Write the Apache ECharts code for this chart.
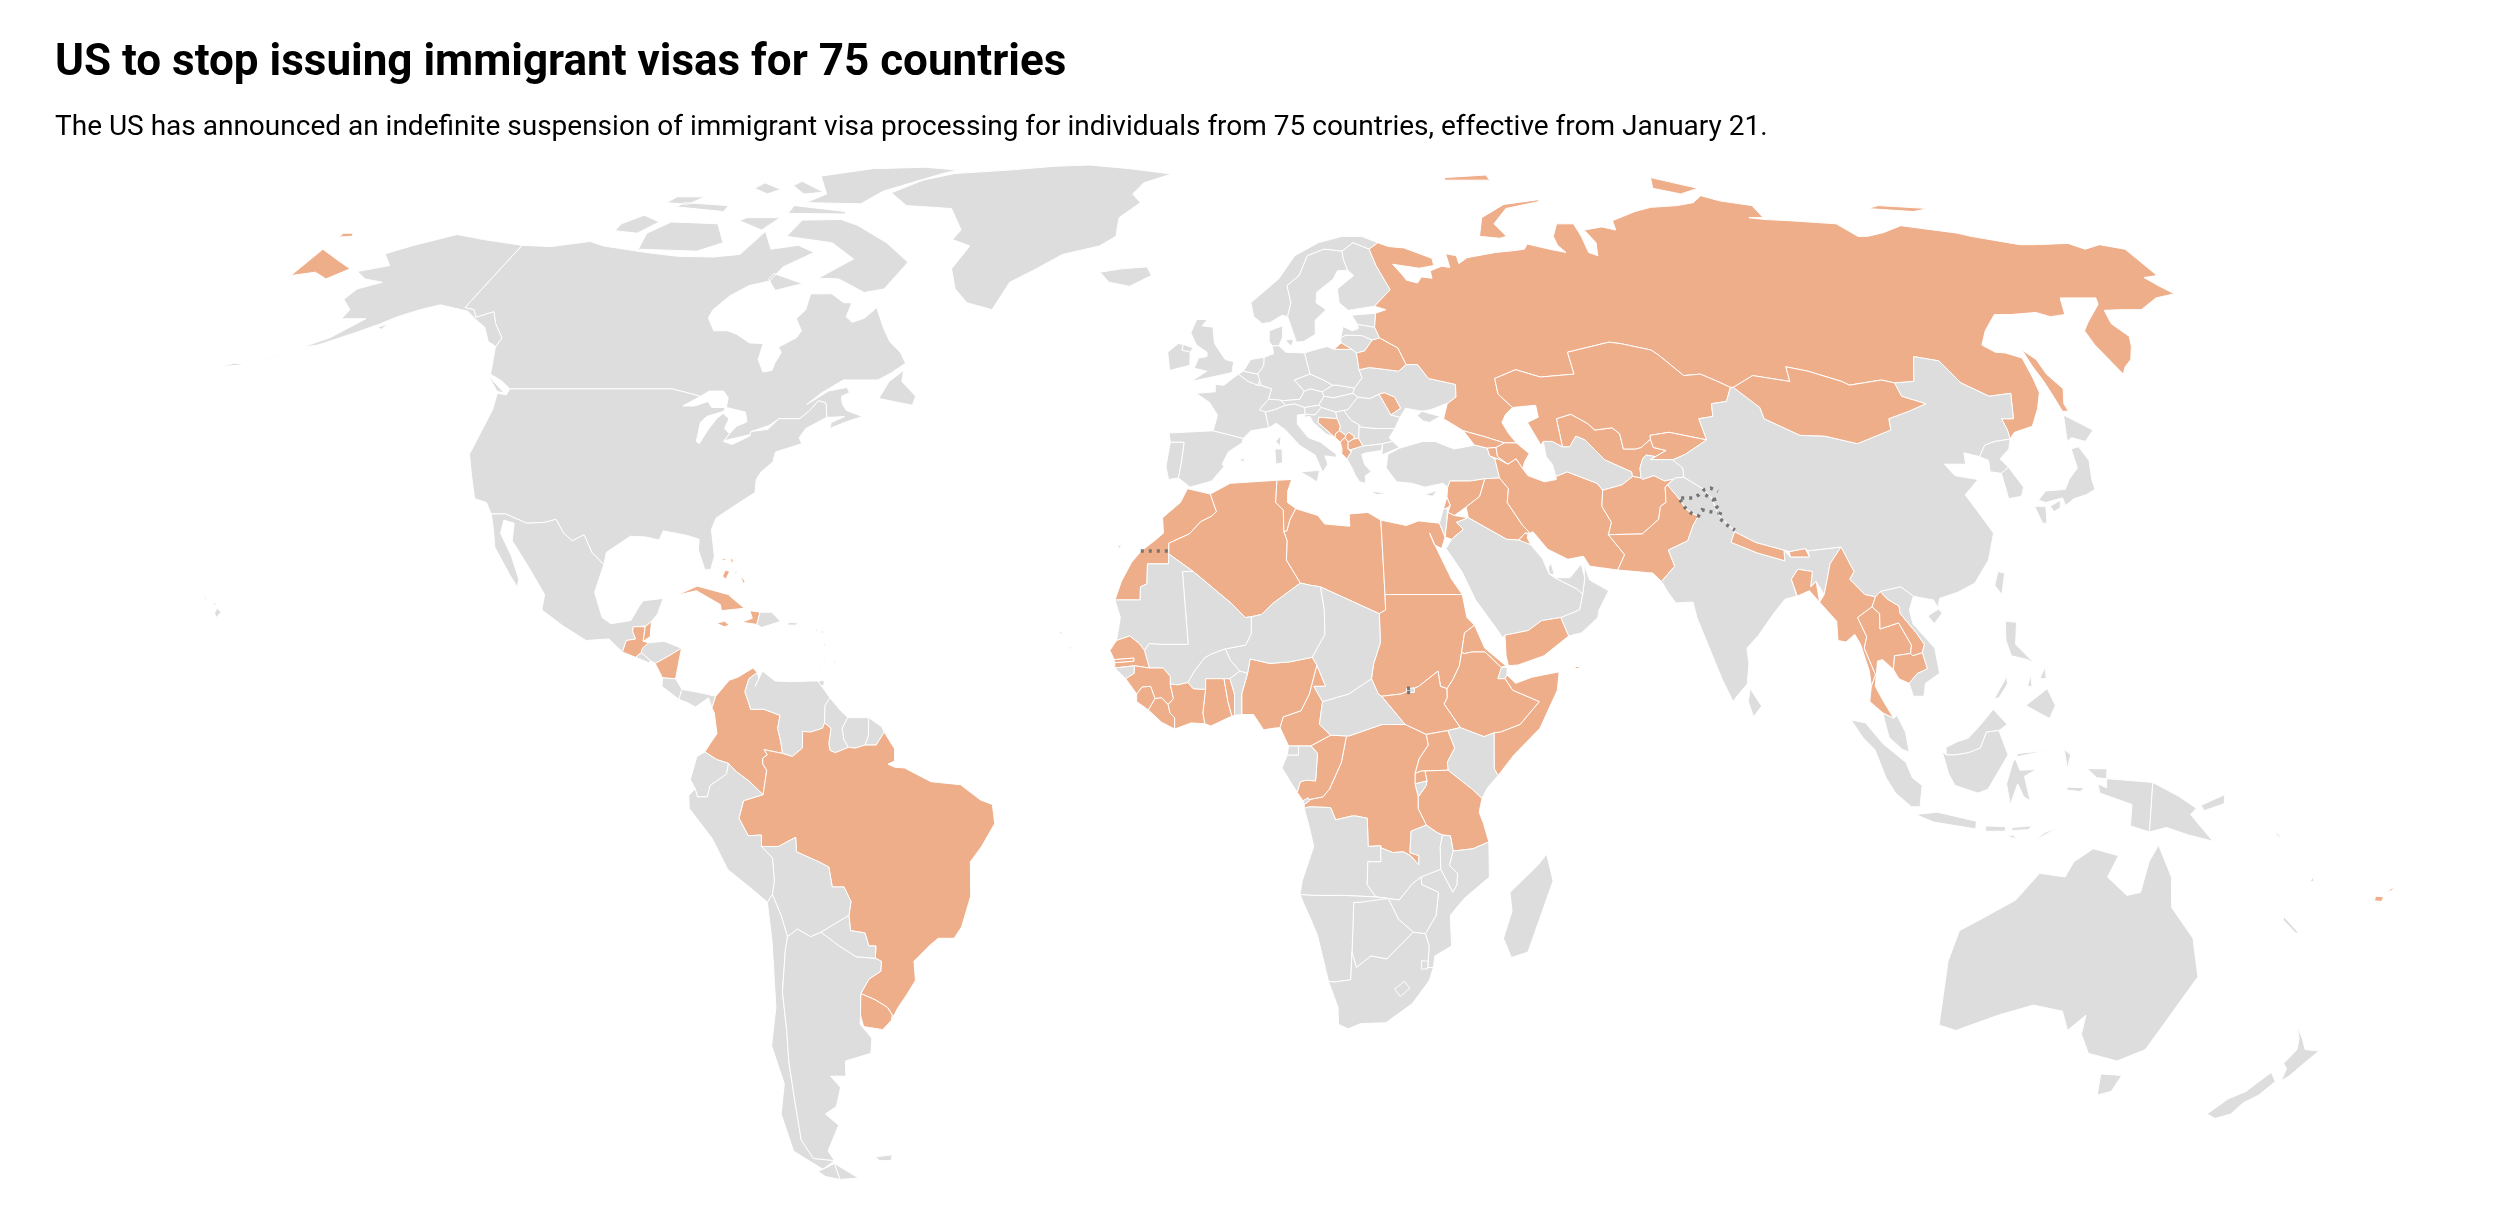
<!DOCTYPE html>
<html><head><meta charset="utf-8">
<style>html,body{margin:0;padding:0;background:#fff}#chart{width:2510px;height:1222px}</style>
<script src="https://cdn.jsdelivr.net/npm/echarts@6/dist/echarts.min.js"></script>
</head><body><div id="chart"></div>
<script>
const titleText = "US to stop issuing immigrant visas for 75 countries";
const subtitleText = "The US has announced an indefinite suspension of immigrant visa processing for individuals from 75 countries, effective from January 21.";
const suspendedCountries = ["Afghanistan","Albania","Algeria","Antigua and Barbuda","Armenia","Azerbaijan","Bahamas","Bangladesh","Barbados","Belarus","Belize","Bhutan","Bosnia and Herzegovina","Brazil","Myanmar","Cambodia","Cameroon","Cape Verde","Colombia","Ivory Coast","Cuba","DR Congo","Dominica","Egypt","Eritrea","Ethiopia","Fiji","Gambia","Georgia","Ghana","Grenada","Guatemala","Guinea","Haiti","Iran","Iraq","Jamaica","Jordan","Kazakhstan","Kosovo","Kuwait","Kyrgyzstan","Laos","Lebanon","Liberia","Libya","North Macedonia","Moldova","Mongolia","Montenegro","Morocco","Nepal","Nicaragua","Nigeria","Pakistan","Republic of Congo","Russia","Rwanda","Saint Kitts and Nevis","Saint Lucia","Saint Vincent","Senegal","Sierra Leone","Somalia","South Sudan","Sudan","Syria","Tanzania","Thailand","Togo","Tunisia","Uganda","Uruguay","Uzbekistan","Yemen"];

const northAmerica = {
"Canada":["-141,69.6;-135,69.4;-128,70.2;-124.5,69.5;-115,68.5;-108,67.9;-101,67.8;-96,68.2;-94,71.8;-90.5,69;-85.5,69.6;-81.5,68.5;-86,66.3;-87,64.2;-90.5,63.5;-93,62;-94.7,60;-94.7,58.8;-92.5,57;-90,57;-88,56.5;-85,55.3;-82.5,55.2;-82.2,53;-80.5,51.3;-79,51.5;-79,52.5;-78.6,54;-79.5,54.7;-77,56;-76.6,57;-78.5,58.7;-77.5,60;-78,62.3;-74,62.3;-71,61;-69.5,61;-69.5,59;-68,58.2;-66,58.8;-64.5,60.3;-62,57.5;-60,55.5;-57.5,54;-56,52.5;-58,51.2;-60,50.2;-66,50.2;-69,48.5;-71,46.9;-68,48.7;-65,49.2;-64.3,48.5;-65.5,48;-65,47;-64,46.1;-61,45.3;-63.5,44.6;-66,43.7;-66,44.5;-64,45.3;-66,45.2;-67,45.2;-67.8,47.1;-69.2,47.4;-70.3,46;-71.5,45;-75,45;-76.3,44.1;-79,43.3;-79,42.9;-83,42.1;-82.5,43;-81.7,44;-80.2,44.6;-81,45.9;-84.5,46.5;-84.8,47.8;-86,48.7;-88.5,48.7;-89.6,48;-95,49;-123,49;-125,50;-127.8,51;-130,54.7;-130,56;-133,58;-135,59.7;-137.5,58.9;-139,60;-141,60.3",
"-64.5,63;-68,62.5;-74,64.5;-78,64.6;-73,67.5;-79,70;-89,71;-88,73.6;-80,73.7;-76,72.8;-68,70;-62,67","-117,69;-105,68.7;-101,70;-105,73;-115,73.3;-118,71.5","-125,71.9;-120,71.5;-117.5,73.3;-122,74.4;-125,73","-90,76.5;-78,76.3;-75,78.5;-65,81.7;-62,82.5;-70,83.1;-82,82.8;-92,81.3;-87,78","-92,76;-80,75;-80,74.6;-92,74.7","-117,75.8;-106,75;-106,76;-116,76.5","-95,80.3;-88,78.3;-92,78;-96,79.5","-101,73.5;-95,72;-93,74;-100,74","-87,65.3;-80.5,63.8;-85,62.8;-87.5,64.5","-59,47.7;-53,46.8;-52.8,48;-55.8,50;-56,51.5;-58,50","-128,50.8;-123.5,48.4;-125,48.7","-120,76.5;-115,76.2;-113,77.5;-119,77.5","-104,79;-100,78;-98,78.8;-103,80"],
"United States":["-123,49;-95,49;-89.6,48;-92,46.7;-90,46.7;-88,47.3;-87,46.5;-84.7,46.5;-84.7,46;-87.3,45.3;-88,44.5;-87.6,42;-87,41.7;-86.3,43.5;-85.5,45;-84.7,45.7;-83.4,45;-83.6,43.7;-82.5,43;-83.1,42;-81.5,41.6;-79,42.7;-79,43.3;-76.3,43.6;-75,45;-71.5,45;-70.3,46;-69.2,47.4;-67.8,47.1;-67,45.2;-70,43.7;-70.7,42.5;-70,41.7;-74,40.6;-74,39.3;-75.5,38;-76,37;-75.7,35.3;-78,33.9;-81,32;-81.4,30.5;-80.1,27;-80.3,25.3;-81.2,25.2;-82.8,27.8;-83,29.2;-85,29.7;-89,30.3;-89.3,29.1;-91.5,29.5;-94,29.6;-97.2,27.5;-97.2,25.9;-99.5,27.5;-101.4,29.8;-103,29;-104.7,30;-106.5,31.8;-108.2,31.4;-111,31.3;-114.8,32.5;-117.1,32.5;-118.5,34;-120.6,34.5;-122.5,37.5;-124.3,40.3;-124,46.2;-124.7,48.4;-123,48.2",
"-141,69.6;-141,60.3;-139,60;-137.5,58.9;-135,59.7;-133,58;-130,56;-130,54.8;-132,55.5;-134.5,57.5;-136.5,58.3;-140,59.8;-146,60.7;-149,60;-152,59;-154,58;-157,56.8;-162,55;-164.5,54.7;-161,56;-157.5,58.7;-162,58.7;-162,60;-165,61.5;-164.5,63;-161,64;-165,64.5;-168,65.6;-163,66.5;-166.5,68.3;-163,69.5;-156.5,71.3;-150,70.5","-154,57.5;-152.5,58;-153,57.2","-155.8,20.2;-155,19.7;-155.6,19;-156,19.6","-156.6,21;-156,20.7;-156.4,20.6","-158.2,21.5;-157.7,21.3;-158,21.7","-170,52.8;-168,53.5;-167,53.8;-168.5,53.2","-176,52;-172,52.3;-174,52.5"],
"Greenland":["-73,78.2;-68,80.5;-62,81.8;-50,82.5;-40,83.3;-32,83.6;-22,82.8;-12,81.7;-18,80;-20,78;-18,76.5;-22,74;-22,71;-25,69.5;-32,68.2;-37,65.8;-41,64;-43,60;-48,61;-51,63;-53,66;-51,69.5;-55,70.5;-54,72;-58,75.5;-68,76"],
"Mexico":["-117.1,32.5;-114.8,32.5;-111,31.3;-108.2,31.4;-106.5,31.8;-104.7,30;-103,29;-101.4,29.8;-99.5,27.5;-97.2,25.9;-97.8,22.3;-96,19;-94.5,18.2;-91.5,18.6;-90.5,20.5;-90,21.2;-87,21.5;-87.5,19.5;-88.3,18.5;-89.1,17.9;-91,17.8;-91,17.2;-90.4,16.2;-91.8,16;-92.2,14.5;-94.5,16.2;-98,16;-102,18;-105.5,20;-105.5,22;-109,25.7;-112.5,29;-113,31.3;-114.8,31.7;-114.7,30;-112,27;-110,24;-110,23;-111.5,24.5;-115,28.2;-116,30.5"],
"Guatemala":["-92.2,14.5;-91.8,16;-90.4,16.2;-91,17.2;-91,17.8;-89.15,17.8;-89.2,15.9;-88.3,15.7;-89.3,14.4;-90.1,13.8"],
"Belize":["-89.15,17.8;-89.1,17.9;-88.3,18.5;-88.2,16.5;-89.2,15.9"],
"Honduras":["-89.2,15;-88.3,15.7;-86,15.9;-83.2,15;-85,14;-87,13;-87.8,13.4;-89.3,14.4"],
"El Salvador":["-90.1,13.8;-89.3,14.4;-87.8,13.4;-88,13.1"],
"Nicaragua":["-87,13;-85,14;-83.2,15;-83.7,11;-85.7,11.1"],
"Costa Rica":["-85.7,11.1;-83.7,11;-82.6,9.6;-83,8.3;-85.7,10"],
"Panama":["-83,8.3;-82.6,9.6;-80,9.2;-77.4,8.7;-77.9,7.2;-78.5,8.5;-80.4,7.3;-81.5,7.8"],
"Cuba":["-85,21.9;-82,23.1;-77,22;-74.2,20.2;-77.7,19.9;-78,20.7;-82,22.5"],
"Haiti":["-74.4,18.4;-72,18.1;-71.7,19.7;-73.3,19.9;-72.8,18.9"],
"Dominican Republic":["-71.7,19.7;-72,18.1;-71.2,17.7;-68.4,18.5;-69.9,19.7"],
"Jamaica":["-78.3,18.3;-77,17.8;-76.2,18;-77,18.5"],
"Puerto Rico":["-67.2,18.4;-65.7,18.3;-66,18;-67.2,18"],
"Trinidad":["-61.9,10.1;-61,10.1;-61,10.8;-61.8,10.7"],
"Bahamas":["-78,25.2;-77.3,25;-77.7,24;-78.3,24.4","-79,26.7;-77.9,26.6;-78.5,26.4","-77.5,26.8;-77,26.5;-77.2,25.9","-75,23.5;-74.6,23.6;-75.5,24.6","-76.3,25;-76,24.7;-76.5,24.8"],
"Antigua and Barbuda":["-62,17;-61.6,17;-61.8,17.3"],
"Saint Kitts and Nevis":["-62.9,17.3;-62.5,17.2;-62.7,17.5"],
"Dominica":["-61.5,15.3;-61.2,15.3;-61.3,15.7"],
"Saint Lucia":["-61.1,13.8;-60.8,13.8;-61,14.1"],
"Saint Vincent":["-61.3,13.1;-61.1,13.1;-61.2,13.4"],
"Barbados":["-59.7,13.1;-59.4,13.1;-59.6,13.4"],
"Grenada":["-61.8,12;-61.6,12;-61.7,12.3"]
};

const southAmerica = {
"Colombia":["-77.4,8.7;-75.5,10.8;-74.2,11.2;-72,12.4;-71.3,11.8;-72.5,11;-73,9.3;-72.4,8;-72,7;-70,7;-67.5,6.2;-67.8,4.5;-67.3,2.8;-67,1.2;-69.8,1.7;-69.3,1;-70,0.6;-70,-0.2;-69.4,-1;-70,-4.2;-70.5,-3.8;-72,-2.5;-74,-1.2;-75.2,-0.1;-77,0.4;-78.8,1.4;-78,2.5;-77,3.8;-77.5,6.5;-77.9,7.2"],
"Venezuela":["-71.3,11.8;-71,11;-71.5,10;-70.5,12;-68.5,10.7;-66,10.6;-63,10.7;-62,10.7;-60.8,9.4;-60,8.5;-60.7,7.5;-60.7,5.2;-61,4.5;-62.8,4;-64,4.1;-64,1.9;-65.5,0.8;-67,1.2;-67.3,2.8;-67.8,4.5;-67.5,6.2;-70,7;-72,7;-72.4,8;-73,9.3;-72.5,11"],
"Guyana":["-60,8.5;-58.5,7;-57.2,5.9;-58,4.5;-57.7,3;-57,2;-59,1.3;-59.8,1.6;-60,2.5;-59.7,4.5;-60.7,5.2;-60.7,7.5"],
"Suriname":["-57.2,5.9;-54,5.9;-54,3.5;-54.5,2.3;-56,1.9;-57,2;-57.7,3;-58,4.5"],
"French Guiana":["-54,5.9;-52,4.7;-51.6,4;-52.8,2.3;-54.5,2.3;-54,3.5"],
"Brazil":["-51.6,4;-50,1.8;-50,0.2;-51,-0.2;-50,-0.6;-48.5,-0.7;-44.5,-2.5;-40,-2.9;-37,-4.9;-35.2,-5.5;-34.9,-8;-37,-11;-38.8,-13;-39,-17.5;-40.7,-21.5;-42,-23;-44.5,-23;-46,-24;-48.6,-26;-48.7,-28.5;-50.5,-30.5;-52,-32;-53.4,-33.7;-53.1,-33;-53.7,-32;-55.5,-31;-57.6,-30.2;-56,-28.3;-54,-27.3;-53.7,-26;-54.6,-25.6;-54.3,-24;-55.4,-24;-55.8,-22.3;-58,-22;-58,-20;-57.5,-18.2;-58.4,-16.3;-60.2,-16.3;-60.5,-13.7;-62,-13;-65.3,-11.7;-65.3,-9.8;-68,-11;-70.6,-11;-70.5,-9.5;-72.5,-9.6;-73.8,-7.3;-73,-5;-70,-4.2;-69.4,-1;-70,-0.2;-70,0.6;-69.3,1;-69.8,1.7;-67,1.2;-65.5,0.8;-64,1.9;-64,4.1;-62.8,4;-61,4.5;-60.7,5.2;-59.7,4.5;-60,2.5;-59.8,1.6;-59,1.3;-57,2;-56,1.9;-54.5,2.3;-52.8,2.3"],
"Ecuador":["-75.2,-0.1;-75.5,-1.5;-78,-3;-78.5,-4.5;-80,-4.5;-80.3,-3.4;-81,-2.2;-80,0.8;-78.8,1.4;-77,0.4"],
"Peru":["-70,-4.2;-73,-5;-73.8,-7.3;-72.5,-9.6;-70.5,-9.5;-70.6,-11;-69,-12.5;-69,-15.5;-69.5,-17.3;-70.4,-18.3;-72,-17;-76,-14;-78,-10;-81.3,-6;-81.3,-4.3;-80.3,-3.4;-80,-4.5;-78.5,-4.5;-78,-3;-75.5,-1.5;-75.2,-0.1;-74,-1.2;-72,-2.5;-70.5,-3.8"],
"Bolivia":["-70.6,-11;-68,-11;-65.3,-9.8;-65.3,-11.7;-62,-13;-60.5,-13.7;-60.2,-16.3;-58.4,-16.3;-57.5,-18.2;-58,-20;-62.6,-22.2;-64.3,-22.8;-66.2,-21.8;-67.9,-22.8;-68.5,-20;-69.5,-17.3;-69,-15.5;-69,-12.5"],
"Chile":["-70.4,-18.3;-69.5,-17.3;-68.5,-20;-67.9,-22.8;-68.5,-24.5;-70,-30;-70.5,-35;-71.3,-39;-72,-44;-73,-49.5;-72,-52;-68.4,-52.3;-71,-53.5;-75,-51;-75,-46;-73,-42;-73.5,-37;-71.5,-32;-70.4,-23.5","-68.6,-52.7;-68.6,-54.9;-71,-54.5;-72,-53.8"],
"Argentina":["-67.9,-22.8;-66.2,-21.8;-64.3,-22.8;-62.6,-22.2;-60,-24;-57.6,-25.4;-54.6,-25.6;-53.7,-26;-54,-27.3;-56,-28.3;-57.6,-30.2;-58.2,-33;-58.5,-34.2;-57,-36;-57.6,-38;-62,-39;-62.5,-41;-65,-41;-63.8,-42.5;-65.3,-45;-67.5,-46;-65.8,-47.5;-69,-51;-68.4,-52.3;-72,-52;-73,-49.5;-72,-44;-71.3,-39;-70.5,-35;-70,-30;-68.5,-24.5","-68.6,-52.7;-65.2,-54.7;-68.6,-54.9"],
"Paraguay":["-58,-20;-58,-22;-55.8,-22.3;-55.4,-24;-54.3,-24;-54.6,-25.6;-57.6,-25.4;-60,-24;-62.6,-22.2"],
"Uruguay":["-57.6,-30.2;-55.5,-31;-53.7,-32;-53.1,-33;-53.4,-33.7;-55,-34.9;-58,-34.5;-58.2,-33"],
"Falkland Islands":["-61,-51.8;-58,-51.5;-58.5,-52.3;-60.5,-52.3"]
};

const europe = {
"Iceland":["-24,65.5;-22,64;-18,63.4;-14,65;-15,66.3;-20,66"],
"Portugal":["-8.9,41.9;-6.6,41.9;-6.9,39.7;-7.4,37.2;-9,37;-9.5,38.7"],
"Spain":["-9.2,43.1;-1.8,43.4;3.2,42.4;3,41.8;0.7,40.6;-0.3,39;0,38.7;-2,36.8;-5.5,36;-7.4,37.2;-6.9,39.7;-6.6,41.9;-8.9,41.9","2.4,39.6;3.4,39.8;3.2,39.3","-16.9,28.3;-16.2,28.5;-16.4,28","-15.8,28;-15.4,28;-15.6,27.8"],
"France":["-1.8,43.4;3.2,42.4;4.5,43.4;7.5,43.8;7,45.9;6,46.2;7.6,47.6;8.2,49;6.2,49.5;5.8,49.5;4.2,50;2.5,51;0,49.5;-1.5,49.6;-1.5,48.6;-4.8,48.4;-2.5,47.2;-1.1,45.5","8.6,42;9.5,42.8;9.3,41.4"],
"Italy":["7.5,43.8;8.8,44.4;10.3,43.5;12.5,41.5;15,40.2;16.1,37.9;17,39;16.6,40.1;18.4,39.9;18.5,40.3;16,41.9;14,42.5;12.3,44.3;12.4,45.5;13.7,45.6;13.7,46.5;12,47;10.5,46.8;8.5,46.2;7,45.9","12.5,38;15.6,38.2;15.1,36.7","8.4,41;9.6,41;9.6,39.2;8.5,39"],
"United Kingdom":["-5.7,50;1.4,51.2;1.7,52.7;0.2,53;-1.7,55.2;-2,57.5;-4,57.7;-3,58.6;-5,58.6;-6,56.7;-4.9,55;-3,54;-3,53.4;-4.5,53.2;-5.2,51.8;-3,51.4","-7.3,55.1;-5.5,54.6;-6,54;-7.5,54.3"],
"Ireland":["-10,54;-8.2,55.2;-7.3,55.1;-7.5,54.3;-6,54;-6,52.2;-9.5,51.5"],
"Belgium":["2.5,51;4.2,50;5.8,49.5;6.2,50.1;6.2,50.5;5.9,51;3.4,51.4"],
"Luxembourg":["5.8,49.5;6.4,49.5;6.2,50.1"],
"Netherlands":["3.4,51.4;5.9,51;7,52.2;7.1,53.3;4.7,53"],
"Germany":["7,52.2;5.9,51;6.2,50.1;6.4,49.5;8.2,49;7.6,47.6;10,47.4;13,47.6;13.8,48.7;12.2,50.2;15,51;14.3,53.9;11,54;9.8,54.9;8.6,54.9;8.8,53.8;7.1,53.3"],
"Denmark":["8.1,55.5;8.6,54.9;9.8,54.9;10.5,56;10.7,57.7;8.2,57","11,55.7;12.5,55.8;12,54.8"],
"Switzerland":["6,46.2;7,45.9;8.5,46.2;10.5,46.8;9.6,47.5;7.6,47.6"],
"Austria":["9.6,47.5;10.5,46.8;12,47;13.7,46.5;16.1,46.8;17.1,48;16.9,48.6;14.9,49;13.8,48.7;13,47.6;10,47.4"],
"Czechia":["12.2,50.2;13.8,48.7;14.9,49;16.9,48.6;18.8,49.5;17,50.3;15,51"],
"Slovakia":["16.9,48.6;17.1,48;18.8,47.8;22.1,48.4;22.5,49.1;19.5,49.5;18.8,49.5"],
"Poland":["14.3,53.9;15,51;17,50.3;18.8,49.5;19.5,49.5;22.5,49.1;24,50.5;23.6,51.6;23.6,52;23.5,53.9;22.8,54.4;19.6,54.4;18.4,54.8;16,54.3"],
"Hungary":["16.1,46.8;17.1,48;18.8,47.8;22.1,48.4;22.9,47.9;21,46.2;20.3,46.1;18.9,45.9;16.5,46.5"],
"Slovenia":["13.7,45.6;13.7,46.5;16.1,46.8;16.5,46.5;15.4,45.5"],
"Croatia":["13.6,45.2;13.7,45.6;15.4,45.5;16.5,46.5;18.9,45.9;19.1,45;16,45.2;15.8,44.5;18.5,42.5;17,43;15,44.5;14.5,45.3"],
"Bosnia and Herzegovina":["16,45.2;19.1,45;19.5,44;19.3,43.4;18.6,43;18.5,42.5;15.8,44.5"],
"Serbia":["18.9,45.9;20.3,46.1;21.4,44.8;22.7,44.2;22.4,42.4;21.5,42.3;21.7,42.7;20.8,43.2;20.3,42.8;19.3,43.4;19.5,44;19.1,45"],
"Kosovo":["20.3,42.8;20.8,43.2;21.7,42.7;21.5,42.3;20.6,41.9;20.1,42.5"],
"Montenegro":["18.5,42.5;18.6,43;19.3,43.4;20.3,42.8;20.1,42.5;19.3,41.9"],
"Albania":["19.3,41.9;20.1,42.5;20.6,41.9;20.5,41;21,40.6;20.2,39.7;19.4,40.4;19.5,41"],
"North Macedonia":["20.6,41.9;21.5,42.3;22.4,42.4;23,41.4;21,40.9;20.5,41"],
"Greece":["20.2,39.7;21,40.6;21,40.9;23,41.4;26.3,41.7;26,40.8;23.5,40.5;22.7,40.3;23,39;24,38;23,37.5;23,36.5;22,36.7;21.3,37.7;21,38.4","23.6,35.5;26.3,35.2;24.7,35"],
"Bulgaria":["22.7,44.2;22.9,43.9;25.5,43.7;28.6,43.7;27.5,42.5;28,42;26.3,41.7;23,41.4;22.4,42.4"],
"Romania":["20.3,46.1;21,46.2;22.9,47.9;24.9,47.7;26.6,48.3;28.2,45.5;29.7,45.2;28.6,43.7;25.5,43.7;22.9,43.9;22.7,44.2;21.4,44.8"],
"Moldova":["26.6,48.3;27.5,48.5;29.2,47.9;30,46.4;28.2,45.5"],
"Ukraine":["22.1,48.4;22.5,49.1;24,50.5;23.6,51.6;25.5,51.9;30.5,51.4;32,52.3;34,52.3;35.5,50.4;40,49.6;39.7,47.9;38.2,47.1;35,46.2;33.5,46;36.5,45.3;34.5,44.5;33.5,44.7;32.6,45.4;33.5,46;30.8,46.4;29.7,45.2;28.2,45.5;30,46.4;29.2,47.9;27.5,48.5;26.6,48.3;24.9,47.7;22.9,47.9"],
"Belarus":["23.6,51.6;25.5,51.9;30.5,51.4;32,52.3;31,54.6;28,56;26.6,55.7;25,54.2;23.5,53.9;23.6,52"],
"Lithuania":["21,56;22,56.4;25,56.3;26.6,55.7;25,54.2;23.5,53.9;22.8,54.4;21,55.3"],
"Latvia":["21,56;21.7,57.6;23.2,57;24.4,57.3;24.4,57.9;27.4,57.5;28,56;26.6,55.7;25,56.3;22,56.4"],
"Estonia":["24.4,57.9;23.5,59.2;28,59.5;27.4,57.5"],
"Norway":["5,61;5.5,59;7,58;8.5,58.2;10.7,59.2;11.7,59;12.5,61;12,63.5;14.5,65;16.5,68;20,69;23.5,68.7;26,70;29,69;31,70;28,71;24,71;19,70;14,68;10.5,64.5"],
"Sweden":["11.7,59;13,55.4;14.3,55.5;16.5,56.5;16.7,58.5;18.9,60;17.2,61;17.5,62.5;21,64.5;22,65.7;24,65.8;23.5,67.5;23.5,68.7;20,69;16.5,68;14.5,65;12,63.5;12.5,61"],
"Finland":["24,65.8;25,65;21.5,63;21.5,61;23,59.9;28,60.5;31.5,62.9;29.7,66.5;29,69;26,70;23.5,68.7;23.5,67.5"],
"Russia":["31,70;33,69.4;36,69.2;41,67.6;41,66.5;38,66.1;33,66.7;34.5,65;35,64.3;37,63.9;38,64.8;40,64.6;40,65.7;42.5,66.4;44,66.2;44,68.3;46,68;46,66.8;48,67.7;54,68.5;58,68.8;60,69;61,69.8;65,69;68,68.5;67,69.6;67,71;69,73;72.5,73;72.7,71;72.5,68.5;74,68;75,70;74,72;78,72.5;80.5,72;81,73.5;87,75;91,75.7;97,76;101,76.5;104,77.7;107,76.8;113,76;113,74;110,74;113,73.7;118,73.5;127,73;129,71;131,71;135,71.6;140,72.7;150,71.5;152,71;160,69.7;163,69.7;170,69.9;172,69;176,69.7;180,69;180,65;177,64.7;178,63.5;179.3,62.3;175,61.7;170,60;166,60;163,59.9;162,58;163.2,56.2;162,54.8;160,53;158,52;156.7,51;155.7,55;156,57;158,58.2;163,60.8;163.7,61.7;160,61.7;157,61.7;155,59.3;152,59;150,59.6;145,59.3;142,59.3;138,57;135.5,55;137,54;138.7,53.9;141,53.2;140.5,50.5;140,48.5;138,46.3;135.5,44;132,43.2;131.5,42.9;130.7,42.3;131,43.5;131,45;133,45;135,48.4;131,48;127.5,49.8;126,52.8;122,53.4;119.5,50;116,49.8;114,50.2;108,49.5;107,50;102,51.4;98.5,52;98,50;92,50.8;87.8,49.2;87.3,49.2;85.5,50;83,51;80,50.8;77,53.6;76,54.3;71,55.2;69,55.4;61,54;61,51;55,50.6;51,51.6;47,50.4;47,48.3;49,46.5;47.6,45.6;46.7,44.5;47.5,43;48.5,41.8;46.5,41.8;43.5,42.6;40,43.4;37,45;38,47;38.2,47.1;39.7,47.9;40,49.6;35.5,50.4;34,52.3;32,52.3;31,54.6;28,56;27.4,57.5;28,59.5;30,60;28,60.5;31.5,62.9;29.7,66.5;29,69","19.6,54.4;22.8,54.4;21,55.3","-180,69;-175,67.5;-170,66;-172.5,64.5;-176,65.5;-180,65","-180,71.5;-178,71.5;-177.5,71;-180,70.9","142,54.3;143.3,53;143.3,51;144.5,49;143,47;143,46;142,46;142,48;142,50;141.8,52","52,71;56,70.7;57.5,71;56,73;60,75.5;68,76.7;68,77;60,76.2;54,74","95,79;100,78;105,79;97,81","137,75.5;146,75;150,75.5;140,76","50,80.5;60,80.5;60,81.5;50,81"]
};

const africa = {
"Morocco":["-5.9,35.8;-2.2,35.1;-1.2,32.8;-2,32.2;-3.7,31.5;-5.5,29.9;-8.7,28.7;-8.7,27.3;-8.7,26;-12,26;-12,23.4;-13,23;-13,21.3;-16.9,21.3;-16,23.7;-14.5,26.2;-13,27.7;-11,29;-9.6,30;-9.8,32;-7,34"],
"Algeria":["-2.2,35.1;1,36.5;8.6,36.9;8.3,34;9.5,33;9.5,30.2;10,29;9.8,26.5;11.9,23.5;7.5,20.8;5.8,19.4;4.2,19.1;3.3,19;1.2,20.8;-4.8,25;-8.7,27.3;-8.7,28.7;-5.5,29.9;-3.7,31.5;-2,32.2;-1.2,32.8"],
"Tunisia":["8.6,36.9;11,37;10.3,35.5;10.2,34;11.5,33.2;10.5,31.7;10,30.3;9.5,30.2;9.5,33;8.3,34"],
"Libya":["11.5,33.2;15,32.3;16,31.2;20,30.9;20,32.5;23,32.7;25,31.7;25,22;25,20;24,19.5;15,23;13.5,23.2;11.9,23.5;9.8,26.5;10,29;9.5,30.2;10,30.3;10.5,31.7"],
"Egypt":["25,31.7;29,31;31,31.6;34.3,31.3;35,29.5;34.3,28;33.2,28.5;32.6,30;33.5,28;35.5,24;37,22;25,22"],
"Sudan":["25,22;37,22;37.5,19;38.6,18;37,17;36.4,14.4;36,12.7;35,11;34,9.7;33,10;32.7,12;29.7,10;27,9;24,8.7;23.5,9;22.5,11;22.9,13;24,15.7;24,19.5;25,20"],
"South Sudan":["34,9.7;33,10;32.7,12;29.7,10;27,9;24,8.7;27.5,5;30.7,3.7;34,4.2;35.9,4.6;33.5,7.7;34,8.5"],
"Abyei":["27.8,9.7;29,9.8;29,9.2;27.9,9.2"],
"Eritrea":["36.4,14.4;37,17;38.6,18;40,15;43.1,12.7;42.4,12.5;42,12.8;40,14.5;38,14.5;36.9,14.3"],
"Djibouti":["42.4,12.5;43.3,12.5;43.2,11.5;42.9,11;41.8,11"],
"Ethiopia":["36.4,14.4;36.9,14.3;38,14.5;40,14.5;42,12.8;42.4,12.5;41.8,11;42.9,11;44,9.5;48,8;45,5;42,4;41,3.9;39.5,3.4;36,4.5;35.9,4.6;33.5,7.7;34,8.5;34,9.7;35,11;36,12.7"],
"Somalia":["43.2,11.5;44.5,10.4;47,11.2;51.2,11.9;50.8,9.5;48,4.5;44,1;41.6,-1.7;41,-0.8;41,2.8;41,3.9;42,4;45,5;48,8;44,9.5;42.9,11"],
"Kenya":["41.6,-1.7;40,-3.3;39.2,-4.7;37.7,-3.5;34,-1;33.9,0.1;35,1.9;34,4.2;35.9,4.6;36,4.5;39.5,3.4;41,3.9;41,2.8;41,-0.8"],
"Uganda":["29,-1.4;30,-1.1;34,-1;33.9,0.1;35,1.9;34,4.2;30.7,3.7;31,2.3;29.6,0.5"],
"Tanzania":["30.5,-1.1;34,-1;37.7,-3.5;39.2,-4.7;38.8,-6.5;39.5,-8;40.4,-10.4;38,-11.3;35,-11.6;34.5,-9.6;33.3,-9.5;32.5,-9.2;30.8,-8.2;29.5,-6;29.5,-4.5;30.7,-3;30.8,-2.4"],
"Rwanda":["29,-1.4;30,-1.1;30.5,-1.1;30.8,-2.4;29,-2.8"],
"Burundi":["29,-2.8;30.8,-2.4;30.7,-3;29.5,-4.5"],
"DR Congo":["12.2,-6;13,-5.8;16.2,-5.9;17,-7.5;19.5,-7;20,-7;21.8,-7.3;22,-11;23.9,-10.9;24,-11.2;25.8,-11.8;27.4,-11.7;28.5,-12.2;29.8,-13.4;29.8,-12.2;28.4,-11.8;28.5,-9;30.8,-8.2;29.5,-6;29.5,-4.5;29,-2.8;29,-1.4;29.6,0.5;31,2.3;30.7,3.7;27.5,5;24,5;19,3.5;18.6,3.5;17.8,0;16,-3.5;15,-4.5;13.2,-4.8;12.2,-5.5"],
"Republic of Congo":["11.1,-3.9;12,-5;13.2,-4.8;15,-4.5;16,-3.5;17.8,0;18.6,3.5;16.2,3.6;13.2,2.2;14.2,1.2;13.9,-2.4;12.5,-2.3;11.6,-2.5"],
"Gabon":["8.8,-0.7;9.6,1;11.3,1;11.3,2.2;13.2,2.2;14.2,1.2;13.9,-2.4;12.5,-2.3;11.6,-2.5;11.1,-3.9"],
"Equatorial Guinea":["9.6,1;11.3,1;11.3,2.2;9.8,2.2"],
"Cameroon":["8.5,4.6;9.8,2.2;13.2,2.2;16.2,3.6;14.5,5;15,8;13.7,10;15.5,10;14.2,12.8;13,9;11.7,6.8;9,6"],
"Nigeria":["2.7,6.3;4.5,6.3;6,4.3;7.5,4.5;8.5,4.6;9,6;11.7,6.8;13,9;14.2,12.8;13.5,13.8;10,13.2;7,13;4,13.6;3.6,11.7;2.7,9"],
"Central African Republic":["14.5,5;16.2,3.6;18.6,3.5;19,3.5;24,5;27.5,5;24,8.7;23.5,9;22.5,11;19,9;15,8"],
"Chad":["15,23;24,19.5;24,15.7;22.9,13;22.5,11;19,9;15,8;13.7,10;15.5,10;14.2,12.8;13.5,13.8;15.5,16.8;15.5,20"],
"Niger":["11.9,23.5;13.5,23.2;15,23;15.5,20;15.5,16.8;13.5,13.8;10,13.2;7,13;4,13.6;3.6,11.7;2.4,12;1,13.4;0.2,14.9;3.3,15.4;4.2,16.9;4.2,19.1;5.8,19.4;7.5,20.8"],
"Mali":["-4.8,25;1.2,20.8;3.3,19;4.2,19.1;4.2,16.9;3.3,15.4;0.2,14.9;-2,14.2;-3,13.7;-4.5,12;-5.5,10.5;-7,10.2;-8.2,10.3;-8.2,11.3;-9.3,12.4;-11.4,12.4;-12.2,14.7;-11.5,15.6;-9.3,15.5;-5.5,15.5;-6.5,25"],
"Mauritania":["-16.9,21.3;-13,21.3;-13,23;-12,23.4;-12,26;-8.7,26;-8.7,27.3;-4.8,25;-6.5,25;-5.5,15.5;-9.3,15.5;-11.5,15.6;-12.2,14.7;-13,15.6;-14.5,16.6;-16.5,16;-16,19"],
"Senegal":["-16.5,16;-14.5,16.6;-13,15.6;-12.2,14.7;-11.4,12.4;-13.7,12.7;-16.7,12.4;-16.7,13.1;-13.8,13.3;-13.8,13.7;-16.8,13.5;-17.5,14.7"],
"Gambia":["-16.8,13.5;-13.8,13.7;-13.8,13.3;-16.7,13.1"],
"Guinea-Bissau":["-16.7,12.4;-13.7,12.7;-13.7,11.7;-15,11;-16,11.8"],
"Guinea":["-13.7,12.7;-11.4,12.4;-9.3,12.4;-8.2,11.3;-8.2,10.3;-7.7,8.4;-8.5,7.6;-9.5,8.5;-10.5,8.4;-11.2,10;-12.5,9.9;-13.3,9;-15,11;-13.7,11.7"],
"Sierra Leone":["-13.3,9;-12.5,9.9;-11.2,10;-10.5,8.4;-11.5,6.9;-13.3,8"],
"Liberia":["-11.5,6.9;-10.5,8.4;-9.5,8.5;-8.5,7.6;-8.2,6.5;-7.5,5.9;-7.5,4.4;-9.5,5.3"],
"Ivory Coast":["-7.5,4.4;-7.5,5.9;-8.2,6.5;-8.5,7.6;-7.7,8.4;-8.2,10.3;-7,10.2;-5.5,10.5;-4.7,9.7;-2.8,9.6;-3.2,6.5;-2.9,5.1;-5,5.2"],
"Burkina Faso":["-5.5,10.5;-4.5,12;-3,13.7;-2,14.2;0.2,14.9;1,13.4;2.4,12;0.9,11;0,11;-2.8,11;-2.8,9.6;-4.7,9.7"],
"Ghana":["-3.2,6.5;-2.8,9.6;-2.8,11;0,11;0.6,8;1.2,6.1;-2,4.8;-2.9,5.1"],
"Togo":["0,11;0.9,11;1.6,9;1.6,6.2;1.2,6.1;0.6,8"],
"Benin":["0.9,11;2.4,12;3.6,11.7;2.7,9;2.7,6.3;1.6,6.2;1.6,9"],
"Angola":["12.2,-6;13,-5.8;16.2,-5.9;17,-7.5;19.5,-7;20,-7;21.8,-7.3;22,-11;23.9,-10.9;24,-13;22,-13;22,-16;23.4,-17.6;18.4,-17.4;14,-17.4;11.7,-17.3;12,-15.5;13.7,-11;13,-8.5","12,-5;12.8,-4.6;13,-5;12.2,-5.5"],
"Zambia":["22,-13;24,-13;23.9,-10.9;24,-11.2;25.8,-11.8;27.4,-11.7;28.5,-12.2;29.8,-13.4;29.8,-12.2;28.4,-11.8;28.5,-9;30.8,-8.2;32.5,-9.2;33.3,-9.5;33,-11;33.2,-14;30.2,-15;28.9,-15.9;27,-18;25.3,-17.8;23.4,-17.6;22,-16"],
"Malawi":["33.3,-9.5;34.5,-9.6;35,-11.6;34.5,-13.5;35.8,-14.5;35.8,-16;35.2,-17;33.2,-14;33,-11"],
"Mozambique":["40.4,-10.4;38,-11.3;35,-11.6;34.5,-13.5;35.8,-14.5;35.8,-16;35.2,-17;33.2,-14;30.2,-15;30.4,-16;33,-17;32.8,-20;31.3,-22.4;32,-24;32,-26.8;32.9,-26.8;33,-25.3;35.5,-24;35,-20;37,-17.8;40.7,-15"],
"Zimbabwe":["25.3,-17.8;27,-18;28.9,-15.9;30.2,-15;30.4,-16;33,-17;32.8,-20;31.3,-22.4;29.4,-22.2;27,-20.5"],
"Botswana":["20,-18.3;20,-22;20,-24.8;20.8,-26.8;23,-25.3;25.5,-25.7;29.4,-22.2;27,-20.5;25.3,-17.8;23.4,-17.6;21,-18.3"],
"Namibia":["11.7,-17.3;14,-17.4;18.4,-17.4;23.4,-17.6;25.3,-17.8;21,-18.3;20,-18.3;20,-22;20,-24.8;20,-28.4;17.4,-28.7;16.5,-28.6;14.5,-22.5"],
"South Africa":["16.5,-28.6;17.4,-28.7;20,-28.4;20,-24.8;20.8,-26.8;23,-25.3;25.5,-25.7;29.4,-22.2;31.3,-22.4;32,-24;32,-26.8;32.9,-26.8;32.4,-28.5;30,-31.5;26,-34;22,-34.1;20,-34.8;18.4,-34.2;18.2,-32"],
"Lesotho":["27,-29.6;28.5,-28.6;29.4,-29.5;28,-30.6"],
"Eswatini":["31,-25.9;32,-26;32,-27;31,-27"],
"Madagascar":["49.3,-12;50.5,-15.5;47.5,-24.8;45,-25.5;43.5,-23;44.5,-19.5;44,-17;48,-13.5"],
"Cape Verde":["-25.3,17;-24.9,16.8;-25,17.2","-23.7,15;-23.4,15;-23.6,15.3"]
};

const asia = {
"Georgia":["40,43.4;43.5,42.6;46.5,41.8;45,41.2;43.5,41.1;41.5,41.5"],
"Armenia":["43.5,41.1;45,41.2;45,40;46.5,39;45,39.7;43.7,40.1"],
"Azerbaijan":["46.5,41.8;48.5,41.8;50.3,40.4;49.3,39.3;48.8,38.4;48,39.7;46.5,39;45,40;45,41.2"],
"Turkey":["26.3,41.7;28,42;29,41.2;26,40.2","27,40.3;29,41.1;33,42;35,42;38,41;41.5,41.5;43.5,41.1;43.7,40.1;44.5,39.7;44.8,37.2;42.4,37.1;40,36.8;36.7,36.8;36.2,36;35.5,36.5;32.5,36;30.5,36.5;28,36.7;26.5,38.5"],
"Cyprus":["32.3,35;34.5,35.6;33.6,34.8"],
"Syria":["36.2,36;36.7,36.8;40,36.8;42.4,37.1;41.2,34.8;38.8,33.4;36.8,32.3;35.8,32.7;36.3,33.6;35.9,34.7"],
"Lebanon":["35.9,34.7;36.3,33.6;35.8,33.3;35.1,33.1"],
"Israel":["35.1,33.1;35.8,33.3;35.5,31.5;35,29.5;34.3,31.3"],
"Jordan":["35.8,32.7;36.8,32.3;39,32;37,31.4;38,30.5;36,29.2;35,29.5;35.5,31.5"],
"Iraq":["42.4,37.1;44.8,37.2;46,35.8;45.5,34;47.5,31;48.5,30;47.7,30;46.6,29.1;44.7,29.2;39,32;38.8,33.4;41.2,34.8"],
"Kuwait":["47.7,30;48.2,29.9;48,29.4;48.4,28.5;47.5,28.7;46.6,29.1"],
"Saudi Arabia":["36,29.2;38,30.5;37,31.4;39,32;44.7,29.2;46.6,29.1;48.4,28.5;50,26.7;50.8,24.7;51.6,24.2;55,22.7;55.7,22;55,20;52,19;49,18.6;46.8,17.3;43.2,16.7;42.8,16.4;42,17.5;39,21.3;37.2,25;35,28"],
"Yemen":["43.2,16.7;46.8,17.3;49,18.6;52,19;53,16.6;49,14;45,12.8;43.5,12.7;43.2,14","53.3,12.6;54.5,12.6;54,12.3"],
"Oman":["55,20;55.7,22;56.3,24.2;56.4,26;57,23.9;59.8,22.5;58,20;57.7,19;55,17;53,16.6;52,19"],
"United Arab Emirates":["51.6,24.2;54,24.2;56,26;56.3,24.2;55.7,22;55,22.7"],
"Qatar":["50.8,24.7;51.6,24.6;51.3,26.1;50.8,25.6"],
"Iran":["44.5,39.7;45,39.7;46.5,39;48,39.7;48.8,38.4;49.5,37.5;52,36.7;54,37;54,37.4;56,38;60.5,36.5;61.2,35.6;60.6,33.5;61.7,31.4;60.9,29.8;63,27.2;61.6,25.2;57.3,25.7;56.5,27;54,26.6;51,27.9;49,30.2;48.5,30;47.5,31;45.5,34;46,35.8;44.8,37.2"],
"Turkmenistan":["53,42;54.5,42;56,41.3;57.2,41.3;58.6,42.7;60,42.2;62.5,39.6;66.5,38;66.5,37.4;64.5,36.3;61.2,35.6;60.5,36.5;56,38;54,37.4;53.8,39;53,40"],
"Uzbekistan":["56,41.3;56,45;58.6,45.6;61,44.4;62,43.5;65,43.8;66,43;66,41;68,41;69,41.2;70.9,42.3;71,41.2;73,40.8;71,40;69.5,40.2;68.8,39.7;68,38.5;67.8,37.2;66.5,37.4;66.5,38;62.5,39.6;60,42.2;58.6,42.7;57.2,41.3"],
"Kazakhstan":["47,50.4;51,51.6;55,50.6;61,51;61,54;69,55.4;71,55.2;76,54.3;77,53.6;80,50.8;83,51;85.5,50;87.3,49.2;85.7,47.3;83,47;82.5,45.3;80,45;80.2,42.2;74.3,43.2;71,42.8;70.9,42.3;69,41.2;68,41;66,41;66,43;65,43.8;62,43.5;61,44.4;58.6,45.6;56,45;56,41.3;54.5,42;53,42;52.5,41.5;51,44.5;53,45.2;53,46.8;49,46.5;47,48.3"],
"Kyrgyzstan":["70.9,42.3;71,42.8;74.3,43.2;80.2,42.2;76,40.3;73.8,39.6;70,39.6;73,40.8;71,41.2"],
"Tajikistan":["68,38.5;68.8,39.7;69.5,40.2;71,40;70,39.6;73.8,39.6;75,38.5;74.8,37.3;71.5,36.8;70,37.5;68,37;67.8,37.2"],
"Afghanistan":["60.6,33.5;61.2,35.6;64.5,36.3;66.5,37.4;67.8,37.2;68,37;70,37.5;71.5,36.8;74.8,37.3;73.35,37.2;71.4,36;71,34;70,33.5;69.3,31.8;66.3,29.9;60.9,29.8;61.7,31.4"],
"Pakistan":["60.9,29.8;66.3,29.9;69.3,31.8;70,33.5;71,34;71.4,36;73.35,37.2;71.85,36.3;73.35,34.35;73.9,33.3;74.7,32.6;75.76,32.25;74.6,31;73.3,29;70,27.8;70.6,25.7;68.2,23.7;67,24.8;61.6,25.2;63,27.2"],
"India":["73.35,34.35;71.85,36.3;73.35,37.2;74.8,37.3;77.6,35.7;78.5,34.6;79,32.5;81,30.2;80.1,28.8;84,27.4;88,26.4;88.2,27.8;89,26.9;92,26.9;92,27.7;97.3,28.2;95,26;94,23.8;93.2,22;92.3,23.7;91.3,23;92,25;89.8,25.3;88.5,24;88.9,21.8;87,21.4;85,19.6;82.2,16.7;80.2,15;80.3,13;79.8,10.3;78,8.6;77.5,8;76,11;73,19;72.7,21;72,21;70,20.9;69,22.3;68.2,23.7;70.6,25.7;70,27.8;73.3,29;74.6,31;75.76,32.25;74.7,32.6;73.9,33.3"],
"Nepal":["80.1,28.8;81,30.2;84,28.8;88.2,27.8;88,26.4;84,27.4"],
"Bhutan":["89,26.9;89,27.6;91.6,28;92,26.9"],
"Bangladesh":["88.5,24;89.8,25.3;92,25;91.3,23;92.3,23.7;92.3,21;91,22.5;89,21.8;88.9,21.8"],
"Sri Lanka":["79.8,8;80.2,9.7;81.8,7.4;80.5,6"],
"China":["73.7,39.5;75,38.5;74.8,37.3;77.6,35.7;78.5,34.6;79,32.5;81,30.2;84,28.8;88.2,27.8;89,27.6;91.6,28;92,27.7;97.3,28.2;98.5,25;97.6,24;99.5,22;101.1,21.7;102,22.4;105.3,23;107,21.8;108,21.6;110,21.3;110.5,20.3;111,21.5;114,22.3;117,23.5;120,26.5;122,30;121,32;119.5,35;122.5,37;119,37.5;118,39;121.5,39;122,40.5;124.3,40;126,41.5;128,42;130.7,42.3;131,43.5;131,45;133,45;135,48.4;131,48;127.5,49.8;126,52.8;122,53.4;119.5,50;116,49.8;116,48;119.5,47;116,46;112,45;111.5,43.5;105,41.7;100,42.7;96,42.8;91,45;91,46.5;87.8,49.2;87.3,49.2;85.7,47.3;83,47;82.5,45.3;80,45;80.2,42.2;76,40.3;73.8,39.6","108.7,19.2;110.5,20.1;111,19.6;109.5,18.2"],
"Taiwan":["121,25;122,24.8;120.8,22;120,23.2"],
"Mongolia":["87.8,49.2;92,50.8;98,50;98.5,52;102,51.4;107,50;108,49.5;114,50.2;116,49.8;116,48;119.5,47;116,46;112,45;111.5,43.5;105,41.7;100,42.7;96,42.8;91,45;91,46.5"],
"North Korea":["124.3,40;126,41.5;128,42;130.7,42.3;129.7,41;127.5,39.7;128.3,38.6;126.7,37.8;125,38;125.5,39.5"],
"South Korea":["128.3,38.6;129.4,36;128.5,34.8;126.3,34.5;126.7,37.8"],
"Japan":["131,34.3;132.7,35.5;136,35.7;137.3,37;139.5,38.5;140,41;141.4,41.3;142,39.5;141,37;140.8,35.7;139,35;136.8,34.5;135,33.6;135,34.6;132,34","140,42;141.8,45.5;145.3,43.5;143,42;141,42.5","130,33.5;131.8,33.5;131,31.3;130.3,31.3","132.5,33.5;134.5,34.3;134,33.3;132.8,32.8"],
"Myanmar":["92.3,21;93.2,22;94,23.8;95,26;97.3,28.2;98.5,25;97.6,24;99.5,22;101.1,21.7;100.3,20.4;97.8,19;98.8,16.5;98.2,15;99.5,11.5;98.7,10;98.6,12;97.7,15.5;97,16.8;95.5,15.8;94.3,16;94.5,18.5"],
"Thailand":["100.3,20.4;101.3,19.5;101,17.5;104,18.3;105.5,15.4;105.2,14.3;102.7,14;102.3,12.2;100.8,13.5;100,13.3;99.3,10;100.4,8;101.8,5.8;100.2,6.5;98.3,8;98.7,10;99.5,11.5;98.2,15;98.8,16.5;97.8,19"],
"Laos":["101.1,21.7;102,22.4;102.9,21.4;104.5,20.5;104.5,19.5;106.5,17;107.5,15.5;107,14.4;105.5,14;105.2,14.3;105.5,15.4;104,18.3;101,17.5;101.3,19.5;100.3,20.4"],
"Vietnam":["102,22.4;105.3,23;107,21.8;106,20;106.2,18.2;109,15;109.3,11.7;107,10.4;106.6,8.7;105,8.7;104.5,10.4;105.9,11.7;107.5,12.3;107,14.4;107.5,15.5;106.5,17;104.5,19.5;104.5,20.5;102.9,21.4"],
"Cambodia":["102.7,14;105.2,14.3;105.5,14;107,14.4;107.5,12.3;105.9,11.7;104.5,10.4;103,11;102.3,12.2"],
"Malaysia":["100.2,6.5;101.8,5.8;102.3,6.2;103.5,4;104,1.4;103,1.7;101,3.3;100.4,5.5","109.6,2;111.5,2.8;113,3.2;115,5;117,7;119,5;117.7,4.2;115.8,4;114.8,1.9;113,1.3;111,1;109.6,1"],
"Indonesia":["95.3,5.6;97.5,5.2;100,2.5;103.5,0;104.5,-2;106,-3;105.8,-5.8;104.5,-5.8;102,-4;100.5,-2;98.8,1.7;97,3.3","105.2,-6.8;108.5,-6.5;114.5,-7.7;114.5,-8.7;108,-7.8","109,1.5;109.6,1;111,1;113,1.3;114.8,1.9;115.8,4;117.7,4.2;119,1;116,-3.5;114.5,-4;111,-3;110,-1.5","119.5,-5.5;120.5,-2.8;121.5,-4.5;122.5,-5;121.5,-1.8;123.3,-0.9;120.8,-1;120,0.7;125,1.6;120.5,1.2;119.7,0;118.8,-2.8","141,-2.6;141,-9.1;138,-8.3;138,-5.5;133,-4;132.7,-2.8;134,-3.3;134,-0.8;131,-0.8;132.5,-2","116,-8.3;119,-8.4;119,-9;116,-9","120,-8.5;123,-8.3;122.5,-8.8;120,-8.9","119.2,-9.6;120.8,-10;120.3,-9.5","123.5,-10.3;127.2,-8.4;125,-9.2","127.5,1.8;128.5,1;128,-0.8;127.7,0.8","128,-3.2;130.7,-3.3;130,-3.8;128,-3.6"],
"Philippines":["120.5,18.5;122.2,18.4;121.5,15.5;124,13;123,13.5;120.6,14;120.1,16","122,7.5;125.5,9.7;126.5,7.5;125.5,5.8;124,6.5","122.5,10;123.2,11.5;123.2,10","124.5,11;125.5,12.5;125.5,11","117.3,8.4;119.5,11.3;119.5,10.3;118,8.5"]
};

const oceania = {
"Australia":["114.2,-22;113.5,-26;115,-34.3;118,-35;124,-33;129,-31.7;134,-32.5;136,-35;138,-33;138.5,-35.5;141,-38;146.3,-39;150,-37.5;151.5,-33;153.5,-28;150.8,-23;146.3,-19;145.3,-15;142.6,-10.8;141.5,-13;141,-17;139,-17.4;135.5,-15;136.7,-12.2;132.7,-11.3;130,-13;129,-15;125,-14.5;122,-18;117,-20.6","144.7,-40.7;148.3,-40.9;148,-43;146,-43.5"],
"Papua New Guinea":["141,-2.6;145,-4.4;147.8,-6;147,-6.8;150.8,-10.3;147,-9.5;143.5,-8.5;141,-9.1","148.5,-5.6;152,-4.2;152,-5.4;149,-6.3"],
"New Zealand":["172.7,-34.5;174.5,-36;176,-37.5;178.4,-37.7;177,-39.5;176,-41;175.2,-41.6;174.8,-40;173.8,-39.3;174.7,-37.5;174,-36","172.7,-40.5;174.3,-41.7;173,-43.5;171.3,-44.5;170.5,-46;168.4,-46.6;166.5,-46;168.3,-44;170.5,-43;171.5,-41.8"],
"New Caledonia":["164,-20.2;167,-22.3;166.5,-22.3;164,-20.6"],
"Solomon Islands":["157,-7.5;159,-8.3;158,-8","160,-8.8;161.3,-10;160.5,-9.6"],
"Vanuatu":["167,-15;167.3,-15.6;166.7,-15.6"],
"Fiji":["177.3,-17.5;178.6,-17.6;178.4,-18.2;177.3,-18.1","178.8,-16.9;180,-16.2;179.5,-16.8"]
};

const disputedBorders = [
  "-13.1,27.67;-8.7,27.67",
  "27.9,9.75;29,9.75","27.9,9.2;29,9.2",
  "73.35,34.35;73.9,33.3;74.7,32.6;75.76,32.25;76.56,33.04;77.63,32.82;78.97,32.6",
  "73.6,34.57;75.5,34.57;76.56,35;77.63,35.66;78.7,35.88;79.77,35.44",
  "77.63,35;78.7,34.35;78.97,33.48;79.5,32.8;78.97,32.08;79.77,31.2;81.1,30.4",
  "78.7,34.35;79.77,34.57"
];

const grayColor = "#dddddd", orangeColor = "#efae8a", dashColor = "#757575";

const mapScale = {cx: 1224, cy: 762.6, radius: 433.6};
function neProject(p){
  const lam=p[0]*Math.PI/180, phi=p[1]*Math.PI/180, p2=phi*phi, p4=p2*p2;
  const l=0.8707-0.131979*p2+p4*(-0.013791+p4*(0.003971*p2-0.001529*p4));
  const m=1.007226+p2*(0.015085+p4*(-0.044475+0.028874*p2-0.005916*p4));
  return [mapScale.radius*lam*l, -mapScale.radius*phi*m];
}
function neInvert(q){
  const xr=q[0]/mapScale.radius, yr=-q[1]/mapScale.radius;
  let phi=yr;
  for(let i=0;i<20;i++){
    const p2=phi*phi,p4=p2*p2;
    const f=phi*(1.007226+p2*(0.015085+p4*(-0.044475+0.028874*p2-0.005916*p4)))-yr;
    const df=1.007226+p2*(0.045255+p4*(-0.311325+0.259866*p2-0.06507*p4));
    phi-=f/df;
  }
  const p2=phi*phi,p4=p2*p2;
  const l=0.8707-0.131979*p2+p4*(-0.013791+p4*(0.003971*p2-0.001529*p4));
  return [xr/l*180/Math.PI, phi*180/Math.PI];
}
const parse = s => s.split(';').map(p=>p.split(',').map(Number));
const allShapes = Object.assign({}, northAmerica, southAmerica, europe, africa, asia, oceania);
const features = Object.keys(allShapes).map(name=>({type:"Feature",properties:{name},
  geometry:{type:"MultiPolygon",coordinates:allShapes[name].map(s=>[(r=>(r.push(r[0]),r))(parse(s))])}}));
let x0=1e9,x1=-1e9,y0=1e9,y1=-1e9;
features.forEach(f=>f.geometry.coordinates.forEach(poly=>poly[0].forEach(c=>{
  const q=neProject(c); x0=Math.min(x0,q[0]);x1=Math.max(x1,q[0]);y0=Math.min(y0,q[1]);y1=Math.max(y1,q[1]);})));
echarts.registerMap("world",{type:"FeatureCollection",features});
const chart=echarts.init(document.getElementById("chart"),null,{renderer:"canvas"});
chart.setOption({
  animation:false,backgroundColor:"#ffffff",
  title:[
    {text:titleText,left:55,top:42,padding:0,textStyle:{fontFamily:"Roboto",fontWeight:"bold",fontSize:44,color:"#000"}},
    {text:subtitleText,left:55,top:114,padding:0,textStyle:{fontFamily:"Roboto",fontWeight:"normal",fontSize:28,color:"#000"}}
  ],
  geo:{map:"world",roam:false,silent:true,
    left:mapScale.cx+x0,top:mapScale.cy+y0,width:x1-x0,height:y1-y0,
    projection:{project:neProject,unproject:neInvert},
    label:{show:false},
    itemStyle:{areaColor:grayColor,borderColor:"#ffffff",borderWidth:1},
    emphasis:{disabled:true},
    regions:suspendedCountries.map(name=>({name,itemStyle:{areaColor:orangeColor,borderColor:"#ffffff",borderWidth:1}}))
  },
  series:[{type:"lines",coordinateSystem:"geo",polyline:true,silent:true,
    lineStyle:{color:dashColor,width:3.5,type:[3,5],opacity:1},
    data:disputedBorders.map(s=>({coords:parse(s)}))}]
});
</script></body></html>
